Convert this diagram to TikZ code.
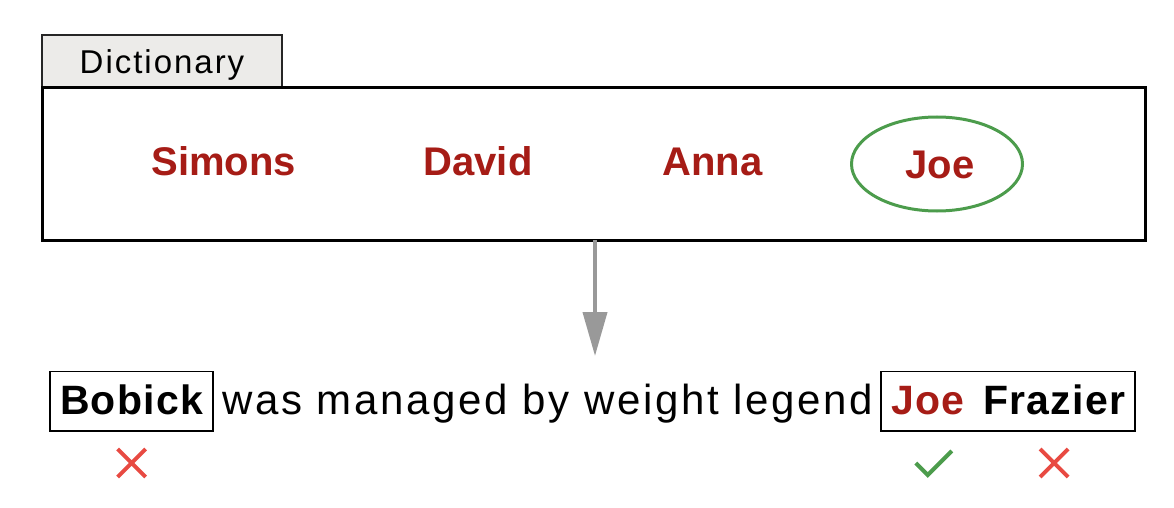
\documentclass[tikz,border=0pt]{standalone}
\usepackage{fontspec}
\setmainfont{Liberation Sans}
\newfontfamily\sentfont[LetterSpace=6.5]{Liberation Sans}
\newfontfamily\wordbf[LetterSpace=3]{Liberation Sans Bold}
\newfontfamily\tabfont[LetterSpace=6]{Liberation Sans}
\usepackage{xcolor}
\usetikzlibrary{arrows.meta,calc,positioning,fit,shapes.geometric}

\definecolor{namered}{RGB}{166,28,22}
\definecolor{crossred}{RGB}{232,74,66}
\definecolor{okgreen}{RGB}{76,156,76}
\definecolor{tabgray}{RGB}{236,235,233}
\definecolor{arrowgray}{RGB}{153,153,153}

\tikzset{
  dictname/.style={text=namered, font=\fontsize{40}{44}\selectfont\bfseries,
    anchor=base, inner sep=0pt},
  word/.style={font=\sentfont\fontsize{42}{48}\selectfont, anchor=base west,
    inner sep=0pt, text height=32pt, text depth=6pt},
  boldword/.style={word, font=\wordbf\fontsize{41}{48}\selectfont},
  wordbox/.style={draw, line width=1.6pt, inner xsep=10pt, inner ysep=10.5pt},
  crosspic/.pic={
    \draw[crossred, line width=4pt] (-14,-14) -- (14,14) (-14,14) -- (14,-14);
  },
  tickpic/.pic={
    \draw[okgreen, line width=4pt] (-17,0) -- (-5,12) -- (19,-12);
  }
}

\begin{document}
\begin{tikzpicture}[x=1pt, y=-1pt]

    \useasboundingbox (0,0) rectangle (1174,508);

    % Dictionary
    \node[draw=black!85, line width=1.2pt, fill=tabgray, outer sep=0pt,
      minimum width=240pt, minimum height=53pt, anchor=south west,
      text height=24pt, text depth=0pt,
      font=\tabfont\fontsize{33}{38}\selectfont] (tab) at (42,88) {Dictionary};
    \node[draw, line width=3pt, outer sep=0pt,
      minimum width=1103pt, minimum height=152pt] (dict) at (593.5,164) {};

    \node[dictname] (simons) at (223.7,175) {Simons};
    \node[dictname] (david) at (478,175) {David};
    \node[dictname] (anna) at (712.5,175) {Anna};
    \node[dictname] (joe) at (940,178) {Joe};
    \node[draw=okgreen, line width=3pt, ellipse,
      minimum width=171pt, minimum height=94pt] (match) at (937,164) {};

    % Lookup
    \coordinate (arrowtip) at (595,356);
    \draw[-{Triangle[width=24pt, length=44pt]}, arrowgray, line width=4pt]
      (dict.south -| arrowtip) -- (arrowtip);

    % Sentence
    \node[boldword] (bobick) at (60,414) {Bobick};
    \node[word] (sent) at (222,414) {was managed by weight legend};
    \node[boldword, text=namered] (sjoe) at (891,414) {Joe};
    \node[boldword] (frazier) at (983,414) {Frazier};
    \node[wordbox, fit=(bobick)] (bobickbox) {};
    \node[wordbox, fit=(sjoe)(frazier)] (namebox) {};

    % Marks
    \coordinate (markrow) at (0,463);
    \pic at (bobick |- markrow) {crosspic};
    \pic at ($(sjoe |- markrow)+(5,0)$) {tickpic};
    \pic at (frazier |- markrow) {crosspic};

\end{tikzpicture}
\end{document}
